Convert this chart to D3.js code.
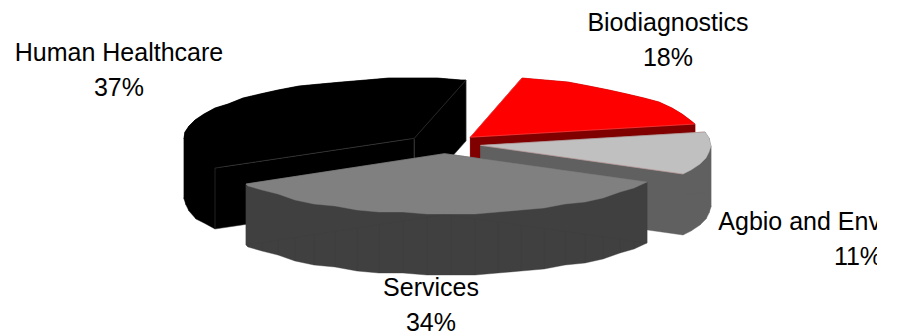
<!DOCTYPE html>
<html><head><meta charset="utf-8">
<style>html,body{margin:0;background:#fff}svg{display:block}text{font-family:"Liberation Sans",Arial,sans-serif;font-size:25px;fill:#000;text-anchor:middle}</style>
<script src="https://cdn.jsdelivr.net/npm/d3@7"></script></head><body>
<svg id="c" width="897" height="332"></svg>
<script>
const categories=["Biodiagnostics","Agbio and Environmental","Services","Human Healthcare"];
const shares=[18,11.3,33.7,37];
const topColors=["#ff0000","#c0c0c0","#808080","#000000"];
const sideColors=["#800000","#606060","#404040","#000000"];
const edgeColors=["#ff6060","#c09090","#808080","#444444"];
const labelX=[668,858,431,119];
const labelY=[31,230,296,61];

const W=897,H=332,CX=444,CY=144,RX=230,RY=60,DEPTH=61,EXPLODE=37,STEP=Math.PI/30,START=13*Math.PI/180;
const svg=d3.select("#c");
svg.append("defs").append("clipPath").attr("id","clip").append("rect").attr("width",877).attr("height",H);
const arcs=d3.pie().sort(null).startAngle(START).endAngle(START+2*Math.PI)(shares);
const line=d3.line();
const g=svg.append("g");
const order=[3,0,1,2];
order.forEach(i=>{
  const a=arcs[i],mid=(a.startAngle+a.endAngle)/2;
  const cx=CX+EXPLODE*Math.sin(mid),cy=CY-EXPLODE*RY/RX*Math.cos(mid);
  const ts=d3.range(a.startAngle,a.endAngle,STEP).concat(a.endAngle);
  const rim=ts.map(t=>[Math.round(cx+RX*Math.sin(t)),Math.round((cy-RY*Math.cos(t))/2)*2]);
  const drop=p=>[p[0],p[1]+DEPTH];
  const apex=[cx,cy];
  const s=g.append("g");
  const face=(pts,fill,stroke)=>s.append("path").attr("d",line(pts)+"Z").attr("fill",fill).attr("stroke",stroke||fill).attr("stroke-width",stroke?0.5:0.4);
  d3.pairs(rim).forEach(([p,q])=>face([p,q,drop(q),drop(p)],sideColors[i]));
  const r0=rim[0],r1=rim[rim.length-1];
  face([apex,r0,drop(r0),drop(apex)],sideColors[i],i===3?"#444":null);
  face([apex,r1,drop(r1),drop(apex)],sideColors[i],i===3?"#444":null);
  face([apex].concat(rim),topColors[i]);
  s.append("path").attr("d",line([r0,apex,r1])).attr("fill","none").attr("stroke",edgeColors[i]).attr("stroke-width",0.5);
});
const labels=svg.append("g").attr("clip-path","url(#clip)");
categories.forEach((c,i)=>{
  labels.append("text").attr("x",labelX[i]).attr("y",labelY[i]).text(c);
  labels.append("text").attr("x",labelX[i]).attr("y",labelY[i]+35).text(Math.round(shares[i])+"%");
});
</script></body></html>
